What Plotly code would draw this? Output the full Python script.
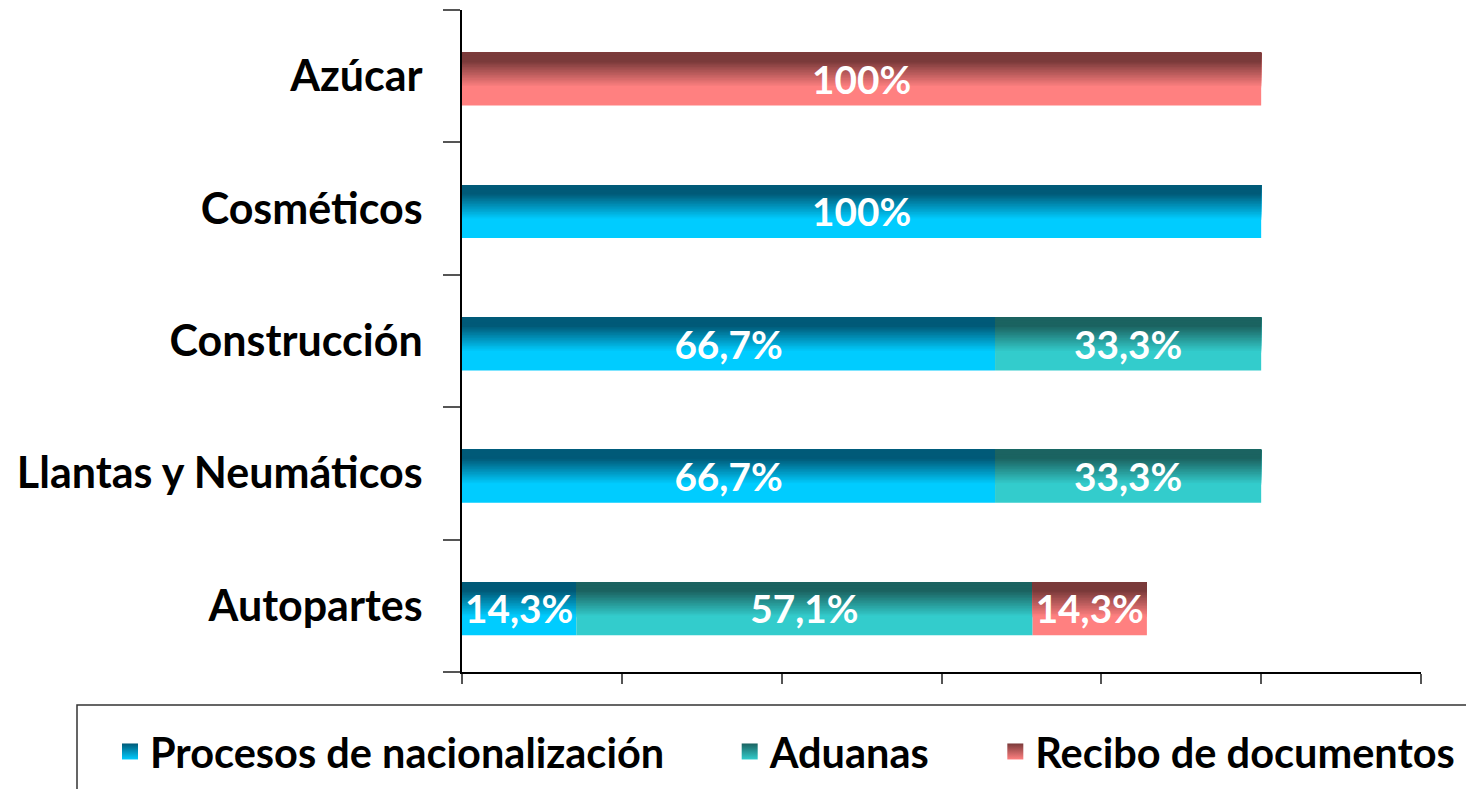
import plotly.graph_objects as go

# ---- data ----
categories = ["Autopartes", "Llantas y Neumáticos", "Construcción", "Cosméticos", "Azúcar"]
series_names = ["Procesos de nacionalización", "Aduanas", "Recibo de documentos"]
procesos = [14.3, 66.7, 66.7, 100.0, 0.0]
aduanas = [57.1, 33.3, 33.3, 0.0, 0.0]
recibo = [14.3, 0.0, 0.0, 0.0, 100.0]
x_ticks = [0, 20, 40, 60, 80, 100, 120]

series_values = [procesos, aduanas, recibo]
dark_colors = [(0, 90, 120), (27, 99, 97), (122, 58, 58)]
light_colors = [(0, 204, 255), (51, 204, 204), (255, 128, 128)]

FONT = "Lato"
W = 0.4        # bar thickness (category units)
SHIFT = -0.022  # bars sit slightly below category centre

# page offset (default body margin) and figure geometry (pixels)
OFF = 8
FIG_W, FIG_H = 1474 - OFF, 789 - OFF
ML, MR, MT, MB = 462 - OFF, 53, 10 - OFF, 117
PW, PH = FIG_W - ML - MR, FIG_H - MT - MB


def px_x(px):  # window pixel -> paper x
    return (px - OFF - ML) / PW


def px_y(py):  # window pixel -> paper y
    return (FIG_H - MB - (py - OFF)) / PH


def label(v):
    if v <= 0:
        return ""
    if abs(v - round(v)) < 1e-9:
        return f"{int(round(v))}%"
    return f"{v:.1f}".replace(".", ",") + "%"


D0, D1 = 0.18, 0.66


def color_at(depth, dark, light):
    # depth 0 = top of bar, 1 = bottom
    if depth <= D0:
        t = 0.0
    elif depth >= D1:
        t = 1.0
    else:
        t = (depth - D0) / (D1 - D0)
    c = [round(d + (l - d) * t) for d, l in zip(dark, light)]
    return f"rgb({c[0]},{c[1]},{c[2]})"


fig = go.Figure()

bases = [0.0] * len(categories)
fractions = [D1 - i * 0.03 for i in range(22)]
for name, vals, dark, light in zip(series_names, series_values, dark_colors, light_colors):
    base = list(bases)
    # base layer (light colour)
    fig.add_trace(go.Bar(
        y=categories, x=vals, base=base, orientation="h",
        width=W, offset=-W / 2 + SHIFT,
        marker=dict(color=f"rgb{light}", line=dict(width=0)),
        showlegend=False, hoverinfo="skip",
    ))
    # gradient layers anchored at top of bar
    for f in fractions:
        if f <= 0:
            continue
        fig.add_trace(go.Bar(
            y=categories, x=vals, base=base, orientation="h",
            width=W * f, offset=W / 2 - W * f + SHIFT,
            marker=dict(color=color_at(f, dark, light), line=dict(width=0)),
            showlegend=False, hoverinfo="skip",
        ))
    # text layer
    fig.add_trace(go.Bar(
        y=categories, x=vals, base=base, orientation="h",
        width=W, offset=-W / 2 + SHIFT,
        marker=dict(color="rgba(0,0,0,0)", line=dict(width=0)),
        text=[label(v) for v in vals], textposition="inside",
        insidetextanchor="middle",
        textfont=dict(family=FONT, size=41, color="white", weight="bold"),
        showlegend=False,
    ))
    bases = [b + v for b, v in zip(bases, vals)]

# legend entries (gradient squares)
pads = ["\u00a0" * 6, "\u00a0" * 6, ""]
for name, dark, light, pad in zip(series_names, dark_colors, light_colors, pads):
    fig.add_trace(go.Scatter(
        x=[None], y=[None], mode="markers", name=name + pad,
        marker=dict(symbol="square", size=16, color=f"rgb{dark}",
                    gradient=dict(type="vertical", color=f"rgb{light}"),
                    line=dict(width=0)),
        showlegend=True,
    ))

fig.update_layout(
    barmode="overlay",
    width=FIG_W, height=FIG_H,
    margin=dict(l=ML, r=MR, t=MT, b=MB, autoexpand=False),
    paper_bgcolor="white", plot_bgcolor="white",
    font=dict(family=FONT, color="black"),
    uniformtext=dict(minsize=10, mode="show"),
    showlegend=True,
    legend=dict(
        orientation="h", x=px_x(110), xanchor="left", y=px_y(718), yanchor="top",
        font=dict(family=FONT, size=41.5, color="black", weight="bold"),
        borderwidth=0, bgcolor="rgba(0,0,0,0)",
        traceorder="normal", itemwidth=30,
    ),
    shapes=[dict(
        type="rect", xref="paper", yref="paper",
        x0=px_x(77), x1=px_x(1500), y0=px_y(705), y1=px_y(810),
        line=dict(color="#333333", width=1.5), fillcolor="rgba(0,0,0,0)",
        layer="below",
    )],
    xaxis=dict(
        range=[0, 120], tickvals=x_ticks, showticklabels=False,
        ticks="outside", ticklen=10, tickwidth=1.5, tickcolor="#555555",
        showgrid=False, zeroline=False,
        showline=True, linecolor="black", linewidth=1.5,
    ),
    yaxis=dict(
        type="category", categoryorder="array", categoryarray=categories,
        range=[-0.5, 4.5], tickson="boundaries",
        ticks="outside", ticklen=17, tickwidth=1.5, tickcolor="#555555",
        showgrid=False, zeroline=False,
        showline=True, linecolor="black", linewidth=1.5,
        tickfont=dict(family=FONT, size=43, color="black", weight="bold"),
        ticklabelstandoff=29,
    ),
)

fig.write_html("out.html")
